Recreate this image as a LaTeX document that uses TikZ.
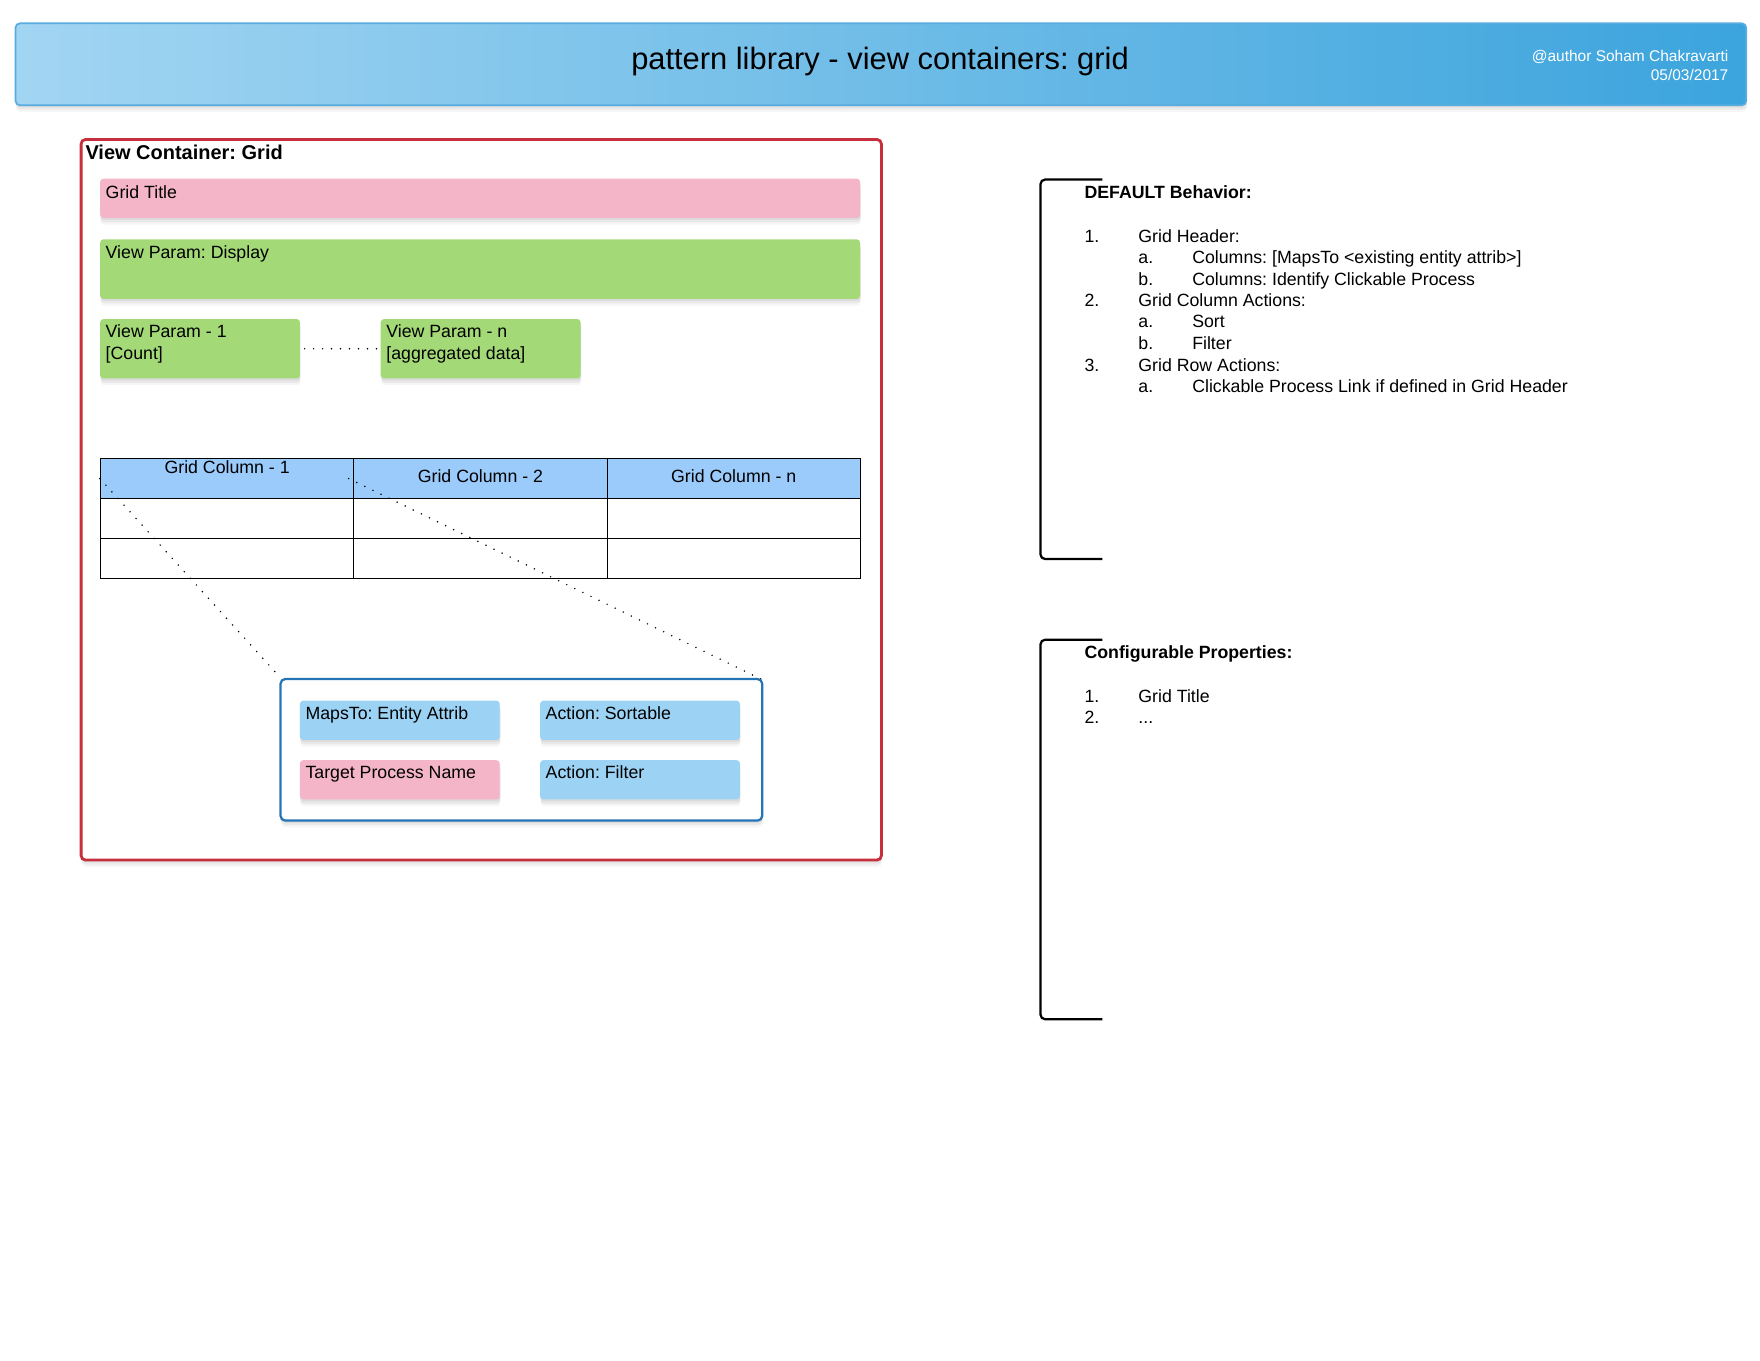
\documentclass[tikz,border=0pt]{standalone}
\usepackage{fontspec}
\setmainfont{Liberation Sans}
\frenchspacing
\usetikzlibrary{shadows}
\definecolor{headL}{HTML}{A2D5F2}
\definecolor{headR}{HTML}{3CA4DD}
\definecolor{headLine}{HTML}{58ACDF}
\definecolor{redLine}{HTML}{C62F3B}
\definecolor{pinkFill}{HTML}{F4B5C8}
\definecolor{greenFill}{HTML}{A4D977}
\definecolor{blueFill}{HTML}{9CD2F3}
\definecolor{colFill}{HTML}{9ACBFB}
\definecolor{detailLine}{HTML}{2575B6}
\tikzstyle{shade} = [drop shadow={shadow xshift=0.5pt, shadow yshift=-2pt, opacity=0.12}, drop shadow={shadow xshift=0.5pt, shadow yshift=-4pt, opacity=0.1}, drop shadow={shadow xshift=0.5pt, shadow yshift=-6pt, opacity=0.07}]
\tikzstyle{card} = [rectangle, rounded corners=3pt, anchor=north west, inner sep=0pt, shade]
\tikzstyle{pinkcard} = [card, fill=pinkFill]
\tikzstyle{greencard} = [card, fill=greenFill]
\tikzstyle{bluecard} = [card, fill=blueFill]
\tikzstyle{txt} = [anchor=base west, inner sep=0pt, font=\fontsize{15.8}{19}\selectfont]
\tikzstyle{boldtxt} = [txt, font=\bfseries\fontsize{15.8}{19}\selectfont]
\tikzstyle{cell} = [draw, line width=1pt, rectangle, anchor=north west, inner sep=0pt, minimum width=225.7pt, minimum height=35.7pt]
\tikzstyle{dots} = [line width=1.5pt, line cap=round, dash pattern=on 0pt off 8pt]
\tikzstyle{bracket} = [line width=2pt, rounded corners=4pt]

\begin{document}
\begin{tikzpicture}[x=1pt,y=-1pt]
\useasboundingbox (0,0) rectangle (1568,1212);

% header
\node[rectangle, anchor=north west, rounded corners=4pt, draw=headLine, line width=1.5pt, left color=headL, right color=headR, minimum width=1542pt, minimum height=73pt, shade] (head) at (13,20) {};
\node[anchor=base, inner sep=0pt, font=\fontsize{27.5}{32}\selectfont] (htitle) at (784,62) {pattern library - view containers: grid};
\node[anchor=base east, inner sep=0pt, white, font=\fontsize{13.8}{16}\selectfont] (hauthor) at (1540,55) {@author Soham Chakravarti};
\node[anchor=base east, inner sep=0pt, white, font=\fontsize{13.8}{16}\selectfont] (hdate) at (1540,72) {05/03/2017};

% view container
\node[rectangle, anchor=north west, rounded corners=4pt, draw=redLine, line width=2.5pt, fill=white, minimum width=713pt, minimum height=642pt, shade] (vc) at (71,123) {};
\node[txt, font=\bfseries\fontsize{17.8}{20}\selectfont] (vctitle) at (76,142) {View Container: Grid};

\node[pinkcard, minimum width=677pt, minimum height=35pt] (gtitle) at (89,159) {};
\node[txt] (gtitlet) at (94,177) {Grid Title};
\node[greencard, minimum width=677pt, minimum height=53pt] (display) at (89,213) {};
\node[txt] (displayt) at (94,230) {View Param: Display};

\node[greencard, minimum width=178pt, minimum height=53pt] (vp1) at (89,284) {};
\node[txt] (vp1a) at (94,301) {View Param - 1};
\node[txt] (vp1b) at (94,320) {[Count]};
\node[greencard, minimum width=178pt, minimum height=53pt] (vpn) at (339,284) {};
\node[txt] (vpna) at (344,301) {View Param - n};
\node[txt] (vpnb) at (344,320) {[aggregated data]};
\draw[dots, dash phase=4pt] (vp1.east) -- (vpn.west);

% grid table
\foreach \c in {1,2,3}
{
\node[cell, fill=colFill] (h\c) at ({89+225.67*(\c-1)},408) {};
\node[cell] (r\c) at ({89+225.67*(\c-1)},443.7) {};
\node[cell] (s\c) at ({89+225.67*(\c-1)},479.4) {};
}
\node[txt, anchor=base] (h1t) at ([yshift=4.9pt]h1.center) {Grid Column - 1};
\node[txt, anchor=base] (h2t) at ([yshift=-3.5pt]h2.center) {Grid Column - 2};
\node[txt, anchor=base] (h3t) at ([yshift=-3.5pt]h3.center) {Grid Column - n};

%zoomed column detail
\draw[dots] (h1.west) -- (250,604);
\draw[dots] ([xshift=-4pt]h2.west) -- (678,605);
\node[rectangle, anchor=north west, rounded corners=4pt, draw=detailLine, line width=2pt, fill=white, minimum width=429pt, minimum height=126pt, shade] (detail) at (249,604) {};

\node[bluecard, minimum width=178pt, minimum height=35pt] (maps) at (267,624) {};
\node[txt] (mapst) at (272,641) {MapsTo: Entity Attrib};
\node[bluecard, minimum width=178pt, minimum height=35pt] (sortable) at (481,624) {};
\node[txt] (sortablet) at (486,641) {Action: Sortable};
\node[pinkcard, minimum width=178pt, minimum height=35pt] (target) at (267,677) {};
\node[txt] (targett) at (272,694) {Target Process Name};
\node[bluecard, minimum width=178pt, minimum height=35pt] (filter) at (481,677) {};
\node[txt] (filtert) at (486,694) {Action: Filter};

% default behaviour notes
\draw[bracket] (982,160) -| (927,498) -- (982,498);
\node[boldtxt] (defhead) at (966,177) {DEFAULT Behavior:};
\foreach \n/\t/\y in {1./Grid Header:/216, 2./Grid Column Actions:/273, 3./Grid Row Actions:/331}
{
\node[txt] (dn\y) at (966,\y) {\n};
\node[txt] (dt\y) at (1014,\y) {\t};
}
\foreach \n/\t/\y in {a./{Columns: [MapsTo <existing entity attrib>]}/235, b./{Columns: Identify Clickable Process}/254, a./Sort/292, b./Filter/311, a./{Clickable Process Link if defined in Grid Header}/350}
{
\node[txt] (sn\y) at (1014,\y) {\n};
\node[txt] (st\y) at (1062,\y) {\t};
}

% configurable properties notes
\draw[bracket] (982,570) -| (927,908) -- (982,908);
\node[boldtxt] (confhead) at (966,587) {Configurable Properties:};
\foreach \n/\t/\y in {1./Grid Title/626, 2./{.{}.{}.}/645}
{
\node[txt] (cn\y) at (966,\y) {\n};
\node[txt] (ct\y) at (1014,\y) {\t};
}

\end{tikzpicture}
\end{document}
